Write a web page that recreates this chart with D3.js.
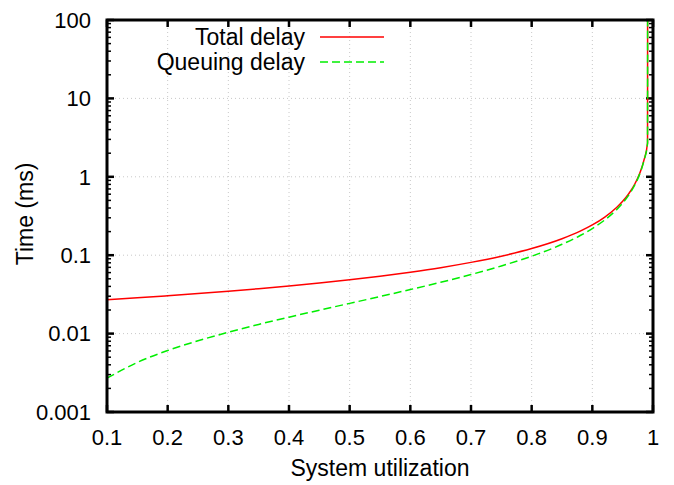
<!DOCTYPE html>
<html>
<head>
<meta charset="utf-8">
<script src="https://cdn.jsdelivr.net/npm/d3@7"></script>
<style>
  body { margin: 0; background: #fff; }
  text { font-family: "Liberation Sans", Arial, sans-serif; fill: #000; }
</style>
</head>
<body>
<svg id="chart"></svg>
<script>
// utilization points (x) and delays in ms
var utilization = [0.1, 0.15, 0.2, 0.25, 0.3, 0.35, 0.4, 0.45, 0.5, 0.55, 0.6, 0.65, 0.7, 0.75,
  0.8, 0.85, 0.88, 0.9, 0.92, 0.94, 0.95, 0.96, 0.97, 0.975, 0.98, 0.985, 0.991, 0.9912];
var totalDelay = [0.027, 0.0286, 0.0304, 0.0324, 0.0347, 0.0374, 0.0405, 0.0442, 0.0486, 0.054,
  0.0608, 0.0694, 0.081, 0.0972, 0.1215, 0.162, 0.2025, 0.243, 0.304, 0.405, 0.486, 0.608,
  0.81, 0.972, 1.215, 1.62, 2.7, 1000];
var queuingDelay = [0.0027, 0.00429, 0.00608, 0.0081, 0.0104, 0.0131, 0.0162, 0.0199, 0.0243,
  0.0297, 0.0365, 0.0451, 0.0567, 0.0729, 0.0972, 0.1377, 0.1782, 0.2187, 0.2797, 0.3807,
  0.4617, 0.5837, 0.7857, 0.9477, 1.191, 1.596, 2.676, 1000];
var xTicks = [0.1, 0.2, 0.3, 0.4, 0.5, 0.6, 0.7, 0.8, 0.9, 1];
var yTicks = [0.001, 0.01, 0.1, 1, 10, 100];
var yTickLabels = ["0.001", "0.01", "0.1", "1", "10", "100"];
var seriesNames = ["Total delay", "Queuing delay"];

var W = 674, H = 485;
var margin = {top: 20, right: 21, bottom: 73, left: 107};
var width = W - margin.left - margin.right,
    height = H - margin.top - margin.bottom;

var svg = d3.select("#chart").attr("width", W).attr("height", H);
var g = svg.append("g").attr("transform", "translate(" + margin.left + "," + margin.top + ")");

var x = d3.scaleLinear().domain([0.1, 1]).range([0, width]);
var y = d3.scaleLog().domain([0.001, 100]).range([height, 0]);

// grid
g.selectAll(".gx").data(xTicks.slice(1, -1)).enter().append("line")
  .attr("x1", function(d) { return x(d); }).attr("x2", function(d) { return x(d); })
  .attr("y1", 0).attr("y2", height)
  .attr("stroke", "#c8c8c8").attr("stroke-width", 1).attr("stroke-dasharray", "1,3");
g.selectAll(".gy").data(yTicks.slice(1, -1)).enter().append("line")
  .attr("y1", function(d) { return y(d); }).attr("y2", function(d) { return y(d); })
  .attr("x1", 0).attr("x2", width)
  .attr("stroke", "#c8c8c8").attr("stroke-width", 1).attr("stroke-dasharray", "1,3");

// minor ticks on log axis
var minor = [];
yTicks.slice(0, -1).forEach(function(t) {
  for (var k = 2; k <= 9; k++) minor.push(t * k);
});
[0, width].forEach(function(side) {
  var dir = side === 0 ? 1 : -1;
  g.selectAll(null).data(minor).enter().append("line")
    .attr("x1", side).attr("x2", side + dir * 4)
    .attr("y1", function(d) { return y(d); }).attr("y2", function(d) { return y(d); })
    .attr("stroke", "#000").attr("stroke-width", 1.5);
  g.selectAll(null).data(yTicks).enter().append("line")
    .attr("x1", side).attr("x2", side + dir * 7)
    .attr("y1", function(d) { return y(d); }).attr("y2", function(d) { return y(d); })
    .attr("stroke", "#000").attr("stroke-width", 2.5);
});
[0, height].forEach(function(side) {
  var dir = side === 0 ? 1 : -1;
  g.selectAll(null).data(xTicks).enter().append("line")
    .attr("y1", side).attr("y2", side + dir * 7)
    .attr("x1", function(d) { return x(d); }).attr("x2", function(d) { return x(d); })
    .attr("stroke", "#000").attr("stroke-width", 2.5);
});

// tick labels
g.selectAll(".xl").data(xTicks).enter().append("text")
  .attr("x", function(d) { return x(d); }).attr("y", height + 33)
  .attr("text-anchor", "middle").style("font-size", "22px")
  .text(function(d) { return d3.format("")(d); });
g.selectAll(".yl").data(yTicks).enter().append("text")
  .attr("x", -16).attr("y", function(d) { return y(d); }).attr("dy", "0.35em")
  .attr("text-anchor", "end").style("font-size", "22px")
  .text(function(d, i) { return yTickLabels[i]; });

// axis titles
svg.append("text").attr("x", margin.left + width / 2).attr("y", 476)
  .attr("text-anchor", "middle").style("font-size", "23px").text("System utilization");
svg.append("text").attr("transform", "translate(33," + (margin.top + height / 2 - 2) + ") rotate(-90)")
  .attr("text-anchor", "middle").style("font-size", "23px").text("Time (ms)");

// curves
var defs = svg.append("defs");
defs.append("clipPath").attr("id", "clip").append("rect")
  .attr("width", width).attr("height", height);

var line = d3.line()
  .x(function(d) { return x(d[0]); })
  .y(function(d) { return y(d[1]); })
  .curve(d3.curveMonotoneX);

var series = [
  {name: seriesNames[0], values: totalDelay, color: "#ff0000", dash: null},
  {name: seriesNames[1], values: queuingDelay, color: "#00ee00", dash: "8,4"}
];

var plot = g.append("g").attr("clip-path", "url(#clip)");
series.forEach(function(s) {
  plot.append("path")
    .datum(utilization.map(function(u, i) { return [u, s.values[i]]; }))
    .attr("d", line)
    .attr("fill", "none")
    .attr("stroke", s.color)
    .attr("stroke-width", 1.5)
    .attr("stroke-dasharray", s.dash);
});

// legend
series.forEach(function(s, i) {
  var ly = 37 + i * 25;
  svg.append("text").attr("x", 305).attr("y", ly).attr("dy", "0.35em")
    .attr("text-anchor", "end").style("font-size", "23px").text(s.name);
  svg.append("line").attr("x1", 320).attr("x2", 384).attr("y1", ly).attr("y2", ly)
    .attr("stroke", s.color).attr("stroke-width", 1.5).attr("stroke-dasharray", s.dash);
});

// frame
g.append("rect").attr("width", width).attr("height", height)
  .attr("fill", "none").attr("stroke", "#000").attr("stroke-width", 3);
</script>
</body>
</html>
